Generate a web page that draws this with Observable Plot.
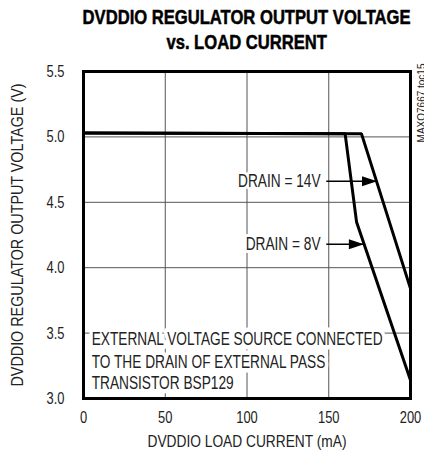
<!DOCTYPE html>
<html>
<head>
<meta charset="utf-8">
<script src="https://cdn.jsdelivr.net/npm/d3@7"></script>
<script src="https://cdn.jsdelivr.net/npm/@observablehq/plot@0.6"></script>
<style>
  html, body { margin: 0; padding: 0; background: #fff; }
  body { position: relative; width: 424px; height: 460px; overflow: hidden; font-family: "Liberation Sans", Arial, sans-serif; }
  #title { position: absolute; top: 0; left: -53.5px; width: 600px; height: 55px; box-sizing: border-box; padding-top: 5px; text-align: center; font-weight: bold; font-size: 20px; line-height: 25px; color: #000; white-space: nowrap; -webkit-text-stroke: 0.5px #000; }
  #title span { display: inline-block; transform-origin: 50% 50%; }
  #chart { position: absolute; top: 55px; left: 0; }
  #chart svg { display: block; }
</style>
</head>
<body>
<div id="title"><span id="t1">DVDDIO REGULATOR OUTPUT VOLTAGE</span><br><span id="t2">vs. LOAD CURRENT</span></div>
<div id="chart"></div>
<script>
// Curves
const current14 = [0, 170, 200];
const voltage14 = [5.03, 5.025, 3.84];
const current8 = [0, 160, 167, 200];
const voltage8 = [5.03, 5.025, 4.35, 3.14];

// Ticks
const xTicks = [0, 50, 100, 150, 200];
const yTicks = [3.0, 3.5, 4.0, 4.5, 5.0, 5.5];
const xGrid = [50, 100, 150];
const yGrid = [3.5, 4.0, 4.5, 5.0];

// Labels
const drainLabels = ["DRAIN = 14V", "DRAIN = 8V"];
const drainLabelX = [145, 145];
const drainLabelY = [4.66, 4.18];
const arrowX1 = [148.5, 148.5];
const arrowX2 = [179.5, 171.5];
const arrowY = [4.66, 4.18];

const noteLines = ["EXTERNAL VOLTAGE SOURCE CONNECTED", "TO THE DRAIN OF EXTERNAL PASS", "TRANSISTOR BSP129"];
const noteX = [5, 5, 5];
const noteY = [3.45, 3.28, 3.12];

const xLabel = "DVDDIO LOAD CURRENT (mA)";
const yLabel = "DVDDIO REGULATOR OUTPUT VOLTAGE (V)";
const sideNote = "MAXQ7667 toc15";

const d14 = current14.map((c, i) => ({c, v: voltage14[i]}));
const d8 = current8.map((c, i) => ({c, v: voltage8[i]}));
const drains = drainLabels.map((t, i) => ({t, x: drainLabelX[i], y: drainLabelY[i], x1: arrowX1[i], x2: arrowX2[i], ay: arrowY[i]}));
const notes = noteLines.map((t, i) => ({t, x: noteX[i], y: noteY[i]}));

const head = {
  draw(ctx) {
    ctx.moveTo(0, 0);
    ctx.lineTo(-15, -5);
    ctx.lineTo(-15, 5);
    ctx.closePath();
  }
};

const font = '"Liberation Sans", Arial, sans-serif';

const chart = Plot.plot({
  width: 424,
  height: 405,
  marginLeft: 83,
  marginRight: 14,
  marginTop: 16,
  marginBottom: 62,
  style: { fontFamily: font, fontSize: "17px", color: "#222", background: "#fff" },
  x: { domain: [0, 200], ticks: xTicks, tickSize: 0, tickPadding: 12, label: null, tickFormat: d3.format("d") },
  y: { domain: [3, 5.5], ticks: yTicks, tickSize: 0, tickPadding: 19, label: null, tickFormat: d3.format(".1f") },
  marks: [
    Plot.gridX(xGrid, { stroke: "#555", strokeOpacity: 1, strokeWidth: 1 }),
    Plot.gridY(yGrid, { stroke: "#555", strokeOpacity: 1, strokeWidth: 1 }),
    Plot.text(notes, { x: "x", y: "y", text: "t", textAnchor: "start", fill: "#222", stroke: "white", strokeWidth: 9, fontSize: 18 }),
    Plot.line(d8, { x: "c", y: "v", stroke: "black", strokeWidth: 3, strokeLinejoin: "miter" }),
    Plot.line(d14, { x: "c", y: "v", stroke: "black", strokeWidth: 3, strokeLinejoin: "miter" }),
    Plot.text(drains, { x: "x", y: "y", text: "t", textAnchor: "end", fill: "#222", stroke: "white", strokeWidth: 6, fontSize: 18 }),
    Plot.link(drains, { x1: "x1", x2: "x2", y1: "ay", y2: "ay", stroke: "black", strokeWidth: 1.5 }),
    Plot.dot(drains, { x: "x2", y: "ay", symbol: head, fill: "black", stroke: "none" }),
    Plot.frame({ stroke: "black", strokeWidth: 3 }),
    Plot.text([yLabel], { frameAnchor: "left", text: d => d, rotate: -90, dx: -66, textAnchor: "middle", fontSize: 17, fill: "#222" }),
    Plot.text([xLabel], { frameAnchor: "bottom", text: d => d, dy: 48, textAnchor: "middle", fontSize: 17, fill: "#222" }),
    Plot.text([sideNote], { x: () => 200, y: () => 5.5, text: d => d, rotate: -90, dx: 11, dy: -8, textAnchor: "end", lineAnchor: "middle", fontSize: 10, fill: "#222" })
  ]
});
document.getElementById("chart").appendChild(chart);

// Condense the type to mimic a narrow face
const squeeze = 0.76;
const fixedLengths = new Map([[xLabel, 199], [yLabel, 303]]);
chart.querySelectorAll("text").forEach(el => {
  const spans = el.querySelectorAll("tspan");
  const targets = spans.length ? Array.from(spans) : [el];
  targets.forEach(t => {
    if (t.textContent === sideNote) return;
    const len = t.getComputedTextLength();
    if (len > 0) {
      const target = fixedLengths.get(t.textContent) ?? len * squeeze;
      t.setAttribute("textLength", target.toFixed(2));
      t.setAttribute("lengthAdjust", "spacingAndGlyphs");
    }
  });
});
const t1 = document.getElementById("t1");
const t2 = document.getElementById("t2");
const titleScale = 328 / t1.getBoundingClientRect().width;
t1.style.transform = `scaleX(${titleScale})`;
t2.style.transform = `scaleX(${titleScale})`;
</script>
</body>
</html>
